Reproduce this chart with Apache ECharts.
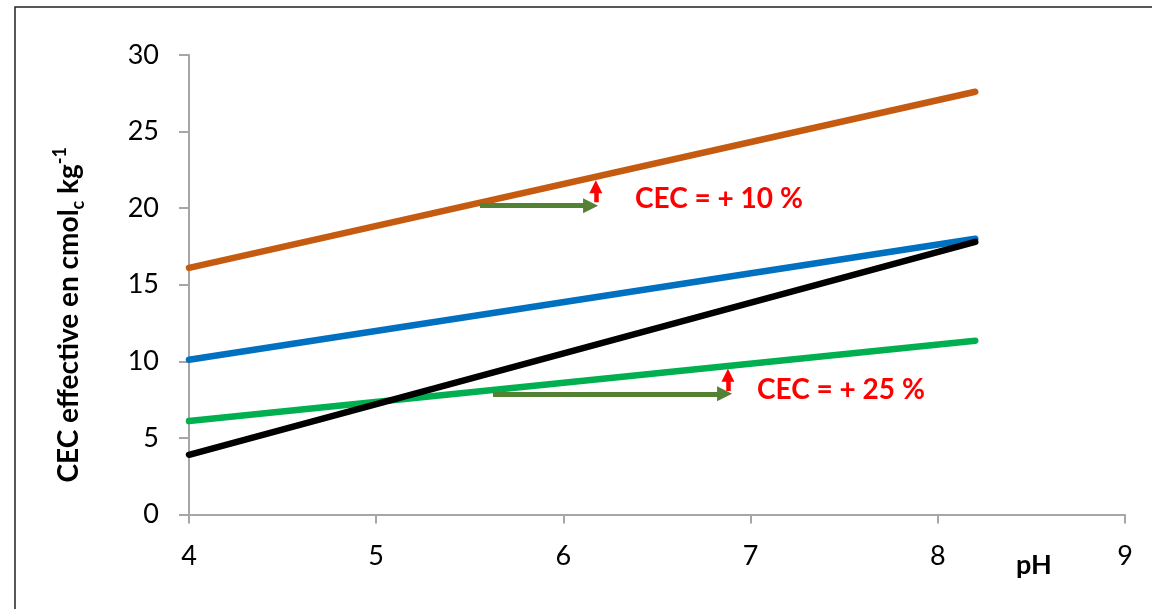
<!DOCTYPE html>
<html>
<head>
<meta charset="utf-8">
<script src="https://cdn.jsdelivr.net/npm/echarts@6/dist/echarts.min.js"></script>
<style>html,body{margin:0;padding:0;background:#fff;}#c{width:1152px;height:609px;}</style>
</head>
<body>
<div id="c"></div>
<script>
// ---- data ----
const phPoints = [4, 8.2];
const cecOrange = [16.1, 27.6];
const cecBlue = [10.1, 18.0];
const cecGreen = [6.1, 11.35];
const cecBlack = [3.9, 17.8];
const xTicks = [4, 5, 6, 7, 8, 9];
const yTicks = [0, 5, 10, 15, 20, 25, 30];
// annotation arrows [ [x0,y0], [x1,y1] ]
const shiftArrows = [[[5.554, 20.16], [6.145, 20.16]], [[5.624, 7.88], [6.861, 7.88]]];
const riseArrows = [[[6.173, 20.38], [6.173, 21.4]], [[6.879, 8.07], [6.879, 9.09]]];
const annotations = ['CEC = + 10 %', 'CEC = + 25 %'];

const font = 'Lato, "Open Sans", sans-serif';
const pair = (ys) => phPoints.map((x, i) => [x, ys[i]]);
const lineSeries = (ys, color) => ({
  type: 'line', data: pair(ys), symbol: 'none', silent: true,
  lineStyle: { color: color, width: 6.5, cap: 'round' }, z: 3
});

const chart = echarts.init(document.getElementById('c'), null, { renderer: 'canvas' });
chart.setOption({
  backgroundColor: '#fff',
  animation: false,
  grid: { left: 189, top: 55, right: 27, bottom: 94.5 },
  xAxis: {
    type: 'value', min: xTicks[0], max: xTicks[xTicks.length - 1], interval: 1,
    axisLine: { lineStyle: { color: '#a6a6a6', width: 2 } },
    axisTick: { show: true, length: 9, lineStyle: { color: '#a6a6a6', width: 2 } },
    axisLabel: { fontFamily: font, fontSize: 27, color: '#000', margin: 28 },
    splitLine: { show: false }
  },
  yAxis: {
    type: 'value', min: yTicks[0], max: yTicks[yTicks.length - 1], interval: 5,
    axisLine: { show: true, lineStyle: { color: '#a6a6a6', width: 2 } },
    axisTick: { show: true, inside: false, length: 10, lineStyle: { color: '#a6a6a6', width: 2 } },
    axisLabel: { fontFamily: font, fontSize: 27, color: '#000', margin: 30 },
    splitLine: { show: false },
    name: '{b|CEC effective en cmol}{sub|c}{b| kg}{sup|-1}',
    nameLocation: 'middle', nameGap: 102, nameRotate: 90,
    nameTextStyle: {
      padding: [0, 60, 0, 0],
      rich: {
        b: { fontFamily: font, fontSize: 28, fontWeight: 'bold', color: '#000', lineHeight: 36, verticalAlign: 'middle' },
        sub: { fontFamily: font, fontSize: 18, fontWeight: 'bold', color: '#000', lineHeight: 36, verticalAlign: 'bottom' },
        sup: { fontFamily: font, fontSize: 18, fontWeight: 'bold', color: '#000', lineHeight: 36, verticalAlign: 'top' }
      }
    }
  },
  series: [
    lineSeries(cecGreen, '#00B050'),
    lineSeries(cecBlue, '#0070C0'),
    lineSeries(cecBlack, '#000000'),
    lineSeries(cecOrange, '#C55A11'),
    {
      type: 'lines', coordinateSystem: 'cartesian2d', silent: true, z: 4,
      symbol: ['none', 'triangle'], symbolSize: 15,
      lineStyle: { color: '#548235', width: 5, opacity: 1 },
      data: shiftArrows.map(c => ({ coords: c }))
    },
    {
      type: 'lines', coordinateSystem: 'cartesian2d', silent: true, z: 5,
      symbol: ['none', 'triangle'], symbolSize: [14, 13],
      lineStyle: { color: '#FF0000', width: 4.5, opacity: 1 },
      data: riseArrows.map(c => ({ coords: c }))
    }
  ],
  graphic: [
    { type: 'rect', shape: { x: 15, y: 7, width: 1200, height: 700 }, style: { fill: 'none', stroke: '#222', lineWidth: 1.5 }, silent: true },
    { type: 'text', x: 1016, y: 565, style: { text: 'pH', font: 'bold 27px ' + font, fill: '#000', verticalAlign: 'middle' } },
    { type: 'text', x: 635, y: 199, style: { text: annotations[0], font: 'bold 28px ' + font, fill: '#FF0000', verticalAlign: 'middle' } },
    { type: 'text', x: 757, y: 390, style: { text: annotations[1], font: 'bold 28px ' + font, fill: '#FF0000', verticalAlign: 'middle' } }
  ]
});
</script>
</body>
</html>
